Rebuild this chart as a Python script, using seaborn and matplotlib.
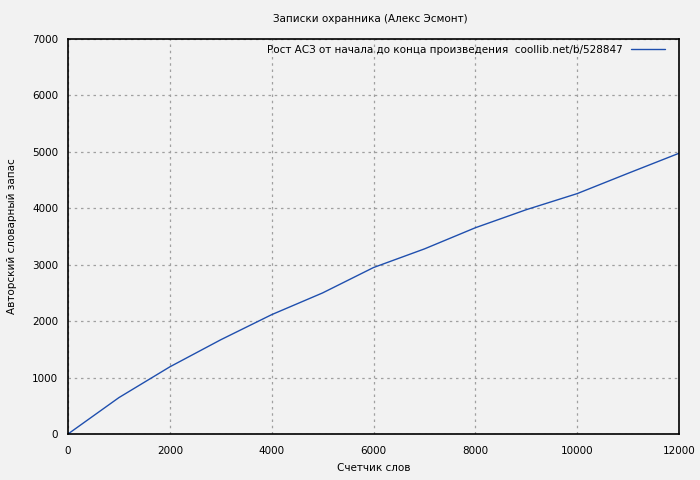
import matplotlib
matplotlib.use("Agg")
import matplotlib.pyplot as plt
import seaborn as sns
import pandas as pd

TITLE = "Записки охранника (Алекс Эсмонт)"
LEGEND = "Рост АСЗ от начала до конца произведения  coollib.net/b/528847"

words = [0, 1000, 2000, 3000, 4000, 5000, 6000, 7000, 8000, 9000, 10000, 11000, 12000]
vocab = [0, 645, 1190, 1670, 2115, 2500, 2950, 3280, 3655, 3975, 4260, 4620, 4975]

df = pd.DataFrame({"words": words, "vocab": vocab})

sns.set_style("white")
plt.rcParams["font.family"] = ["DejaVu Sans"]
plt.rcParams["text.color"] = "black"

fig = plt.figure(figsize=(7, 4.8), dpi=100, facecolor="#f2f2f2")
ax = fig.add_axes([68 / 700, 1 - 434 / 480, (679 - 68) / 700, (434 - 39) / 480])
ax.set_facecolor("#f2f2f2")

sns.lineplot(data=df, x="words", y="vocab", ax=ax, color="#1f4fae", linewidth=1, label=LEGEND)

ax.set_xlim(0, 12000)
ax.set_ylim(0, 7000)
ax.set_xticks(range(0, 12001, 2000))
ax.set_yticks(range(0, 7001, 1000))
ax.grid(True, color="#a0a0a0", linestyle=(0, (2, 3)), linewidth=0.9)
ax.tick_params(axis="x", direction="in", length=4, labelsize=7.5, colors="black", pad=9)
ax.tick_params(axis="y", direction="out", length=4, labelsize=7.5, colors="black", pad=3)
for s in ax.spines.values():
    s.set_color("black")
    s.set_linewidth(1.2)

ax.set_xlabel("Счетчик слов", fontsize=7.5, color="black", labelpad=5)
ax.set_ylabel("Авторский словарный запас", fontsize=7.5, color="black", labelpad=11)
fig.text(370 / 700, 1 - 19 / 480, TITLE, ha="center", va="center", fontsize=7.5, color="black")

leg = ax.legend(loc="upper right", bbox_to_anchor=(665 / 700, 1 - 45 / 480),
                bbox_transform=fig.transFigure, frameon=False, fontsize=7.5,
                markerfirst=False, handlelength=3.3, borderaxespad=0, borderpad=0,
                handletextpad=0.8)
for t in leg.get_texts():
    t.set_color("black")

fig.savefig("out.png", dpi=100, facecolor=fig.get_facecolor())
